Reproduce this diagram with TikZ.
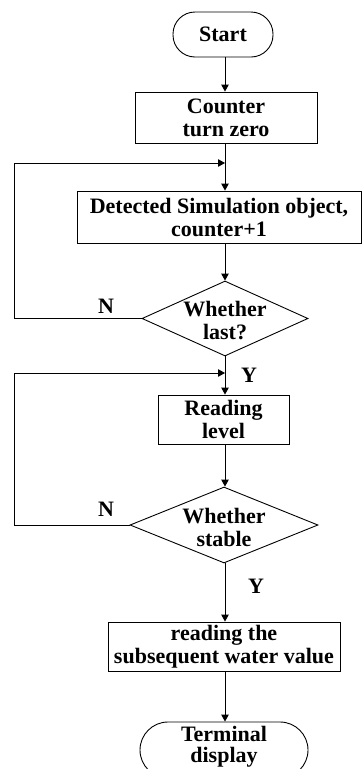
\documentclass[tikz,border=0pt]{standalone}
\usepackage{fontspec}
\setmainfont{Liberation Serif}
\usetikzlibrary{shapes.geometric,arrows.meta}
\begin{document}
\begin{tikzpicture}[x=1pt,y=-1pt,line width=0.9pt,
  txt/.style={font=\fontsize{22}{23}\selectfont\bfseries,align=center,inner sep=0pt},
  box/.style={txt,draw,rectangle},
  term/.style={txt,draw,rectangle,rounded corners=22pt},
  dec/.style={draw,diamond,inner sep=0pt},
  lbl/.style={txt},
  arr/.style={-{Triangle[length=7pt,width=7.5pt]}}]
\clip (0,0) rectangle (362,769);
\useasboundingbox (0,0) rectangle (362,769);
% nodes
\node[term,minimum width=100pt,minimum height=45pt] (start) at (223,34.5) {Start};
\node[box,minimum width=182pt,minimum height=51pt] (cnt) at (226,117.5) {Counter\\turn zero};
\node[box,minimum width=284pt,minimum height=52pt] (det) at (219,217) {Detected Simulation object,\\counter+1};
\node[dec,minimum width=166pt,minimum height=75pt] (d1) at (225,318.5) {};
\node[txt] (d1t) at (225,321) {Whether\\last?};
\node[box,minimum width=131pt,minimum height=49pt] (rd) at (223.5,419.5) {Reading\\level};
\node[dec,minimum width=188pt,minimum height=76pt] (d2) at (224,525) {};
\node[txt] (d2t) at (224,527) {Whether\\stable};
\node[box,minimum width=232pt,minimum height=49pt] (rv) at (224,646.5) {reading the\\subsequent water value};
\node[term,minimum width=168pt,minimum height=56pt,rounded corners=28pt] (end) at (224,750) {};
\node[txt,font=\fontsize{22}{21}\selectfont\bfseries] (endt) at (224,747) {Terminal\\display};
% labels
\node[lbl] (n1) at (106,306) {N};
\node[lbl] (y1) at (249,375) {Y};
\node[lbl] (n2) at (106,509) {N};
\node[lbl] (y2) at (256,586) {Y};
% junctions
\coordinate (j1) at (225,163);
\coordinate (l1) at (14,163);
\coordinate (j2) at (225,373);
\coordinate (l2) at (14,373);
% connectors
\draw[arr] (start.south -| j1) -- (cnt.north -| j1);
\draw (cnt.south -| j1) -- (j1);
\draw[arr] (j1) -- (det.north -| j1);
\draw[arr] (det.south -| j1) -- (d1.north);
\draw[arr] (d1.west) -| (l1) -- (j1);
\draw (d1.south) -- (j2);
\draw[arr] (j2) -- (rd.north -| j2);
\draw[arr] (rd.south -| j2) -- (d2.north -| j2);
\draw[arr] (d2.west) -| (l2) -- (j2);
\draw[arr] (d2.south -| j2) -- (rv.north -| j2);
\draw[arr] (rv.south -| j2) -- (end.north -| j2);
\end{tikzpicture}
\end{document}
